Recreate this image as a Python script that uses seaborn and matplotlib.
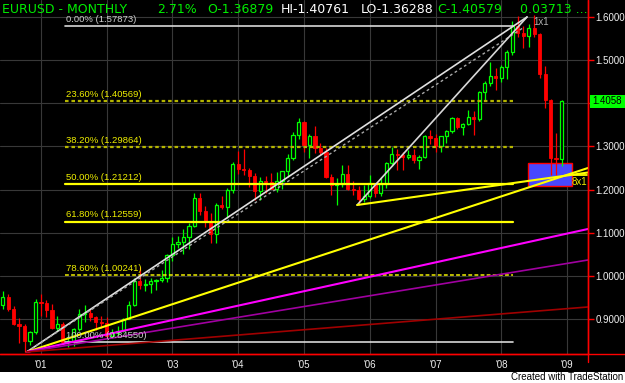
import matplotlib
matplotlib.use("Agg")
import matplotlib.pyplot as plt
import seaborn as sns
import numpy as np
import pandas as pd
from matplotlib.patches import Rectangle
from matplotlib.lines import Line2D

# ---------------- data (monthly EURUSD, Jun 2000 .. Dec 2008) ----------------
months = pd.period_range("2000-06", "2008-12", freq="M")

opens = [0.9320, 0.9520, 0.9235, 0.8880, 0.8830, 0.8490, 0.8700,
         0.9390, 0.9370, 0.9210, 0.8800, 0.8880, 0.8460, 0.8490, 0.8760, 0.9120, 0.9130, 0.9040, 0.8920,
         0.8900, 0.8600, 0.8680, 0.8720, 0.9010, 0.9330, 0.9870, 0.9780, 0.9810, 0.9870, 0.9900, 0.9940,
         1.0490, 1.0740, 1.0790, 1.0910, 1.1150, 1.1800, 1.1500, 1.1250, 1.0980, 1.1650, 1.1590, 1.1990,
         1.2590, 1.2470, 1.2450, 1.2310, 1.1960, 1.2200, 1.2170, 1.2020, 1.2190, 1.2420, 1.2740, 1.3270,
         1.3560, 1.3040, 1.3240, 1.2960, 1.2880, 1.2300, 1.2100, 1.2120, 1.2350, 1.2020, 1.1990, 1.1790,
         1.1840, 1.2150, 1.1920, 1.2120, 1.2610, 1.2830, 1.2790, 1.2760, 1.2810, 1.2680, 1.2760, 1.3250,
         1.3190, 1.3020, 1.3230, 1.3360, 1.3660, 1.3450, 1.3530, 1.3690, 1.3630, 1.4260, 1.4480, 1.4630,
         1.4590, 1.4840, 1.5180, 1.5790, 1.5620, 1.5550, 1.5750, 1.5600, 1.4680, 1.4080, 1.2730, 1.2700]
highs = [0.9650, 0.9580, 0.9300, 0.9030, 0.8890, 0.8720, 0.9460,
         0.9590, 0.9450, 0.9340, 0.9080, 0.8940, 0.8640, 0.8800, 0.9240, 0.9330, 0.9220, 0.9080, 0.9070,
         0.9050, 0.8760, 0.8840, 0.9030, 0.9410, 0.9950, 1.0200, 0.9920, 0.9960, 0.9930, 1.0140, 1.0500,
         1.0900, 1.0930, 1.1080, 1.1230, 1.1930, 1.1930, 1.1630, 1.1450, 1.1680, 1.1840, 1.2030, 1.2650,
         1.2900, 1.2930, 1.2490, 1.2390, 1.2290, 1.2310, 1.2380, 1.2410, 1.2440, 1.2820, 1.3330, 1.3670,
         1.3580, 1.3290, 1.3480, 1.3090, 1.2960, 1.2360, 1.2260, 1.2560, 1.2580, 1.2190, 1.2080, 1.2100,
         1.2330, 1.2160, 1.2290, 1.2630, 1.2980, 1.2940, 1.2880, 1.2920, 1.2940, 1.2810, 1.3270, 1.3370,
         1.3280, 1.3250, 1.3380, 1.3680, 1.3680, 1.3540, 1.3850, 1.3810, 1.4280, 1.4520, 1.4960, 1.4820,
         1.4880, 1.5240, 1.5900, 1.6020, 1.5800, 1.5840, 1.6040, 1.5620, 1.4870, 1.4100, 1.3300, 1.4076]
lows = [0.9240, 0.9180, 0.8850, 0.8440, 0.8230, 0.8400, 0.8650,
        0.9080, 0.9040, 0.8760, 0.8720, 0.8440, 0.8350, 0.8370, 0.8710, 0.8930, 0.8960, 0.8740, 0.8780,
        0.8580, 0.8560, 0.8600, 0.8700, 0.8990, 0.9300, 0.9700, 0.9640, 0.9610, 0.9680, 0.9850, 0.9860,
        1.0340, 1.0640, 1.0500, 1.0620, 1.1140, 1.1410, 1.1140, 1.0760, 1.0770, 1.1550, 1.1350, 1.1930,
        1.2370, 1.2340, 1.2050, 1.1760, 1.1760, 1.1920, 1.2010, 1.1950, 1.2020, 1.2300, 1.2690, 1.3180,
        1.2860, 1.2740, 1.2850, 1.2800, 1.2270, 1.1870, 1.1640, 1.2050, 1.1990, 1.1880, 1.1640, 1.1710,
        1.1800, 1.1830, 1.1860, 1.2030, 1.2540, 1.2460, 1.2450, 1.2700, 1.2610, 1.2480, 1.2740, 1.3060,
        1.2870, 1.2860, 1.3080, 1.3320, 1.3400, 1.3270, 1.3500, 1.3260, 1.3580, 1.4080, 1.4400, 1.4310,
        1.4500, 1.4560, 1.5130, 1.5540, 1.5280, 1.5300, 1.5530, 1.4580, 1.3880, 1.2330, 1.2330, 1.2550]
closes = [0.9520, 0.9235, 0.8880, 0.8830, 0.8490, 0.8700, 0.9390,
          0.9370, 0.9210, 0.8800, 0.8880, 0.8460, 0.8490, 0.8760, 0.9120, 0.9130, 0.9040, 0.8920, 0.8900,
          0.8600, 0.8680, 0.8720, 0.9010, 0.9330, 0.9870, 0.9780, 0.9810, 0.9870, 0.9900, 0.9940, 1.0490,
          1.0740, 1.0790, 1.0910, 1.1150, 1.1800, 1.1500, 1.1250, 1.0980, 1.1650, 1.1590, 1.1990, 1.2590,
          1.2470, 1.2450, 1.2310, 1.1960, 1.2200, 1.2170, 1.2020, 1.2190, 1.2420, 1.2740, 1.3270, 1.3560,
          1.3040, 1.3240, 1.2960, 1.2880, 1.2300, 1.2100, 1.2120, 1.2350, 1.2020, 1.1990, 1.1790, 1.1840,
          1.2150, 1.1920, 1.2120, 1.2610, 1.2830, 1.2790, 1.2760, 1.2810, 1.2680, 1.2760, 1.3250, 1.3190,
          1.3020, 1.3230, 1.3360, 1.3660, 1.3450, 1.3530, 1.3690, 1.3630, 1.4260, 1.4480, 1.4630, 1.4590,
          1.4840, 1.5180, 1.5790, 1.5620, 1.5550, 1.5750, 1.5600, 1.4680, 1.4080, 1.2730, 1.2700, 1.4058]

# Fibonacci retracement levels
fib_labels = ["0.00% (1.57873)", "23.60% (1.40569)", "38.20% (1.29864)", "50.00% (1.21212)",
              "61.80% (1.12559)", "78.60% (1.00241)", "100.00% (0.84550)"]
fib_prices = [1.57873, 1.40569, 1.29864, 1.21212, 1.12559, 1.00241, 0.84550]

# Gann fan lines: start (month index, price) -> end (month index, price); month 0 = Jan 2001
fan_x0 = [-2.6, -2.6, -2.6, -2.6, -2.6, -2.6, 57.7, 57.7]
fan_y0 = [0.8235, 0.8235, 0.8235, 0.8235, 0.8235, 0.8235, 1.1642, 1.1642]
fan_x1 = [88.7, 88.0, 99.83, 99.83, 99.83, 99.83, 88.7, 99.83]
fan_y1 = [1.6000, 1.5750, 1.2500, 1.1086, 1.0367, 0.9278, 1.6000, 1.2395]

# Highlight box (month range, price range)
box_months = [88.9, 96.9]
box_prices = [1.2083, 1.2616]

year_ticks = ["'01", "'02", "'03", "'04", "'05", "'06", "'07", "'08", "'09"]
price_ticks = [0.9, 1.0, 1.1, 1.2, 1.3, 1.4, 1.5, 1.6]
last_price = 1.4058

header_parts = ["EURUSD - MONTHLY", "2.71%", "O-1.36879", "HI-1.40761", "LO-1.36288", "C-1.40579", "0.03713 ..."]

# ---------------- styling ----------------
W, H = 625, 383
sns.set_theme(style="dark")
plt.rcParams['font.family'] = ['Liberation Sans', 'DejaVu Sans']

fig = plt.figure(figsize=(W / 100, H / 100), dpi=100, facecolor="black")
ax = fig.add_axes([0, 29 / H, 588 / W, 354 / H])
ax.set_facecolor("black")

m = np.array([(p.year - 2001) * 12 + (p.month - 1) for p in months], dtype=float)
o = np.array(opens); hi = np.array(highs); lo = np.array(lows); c = np.array(closes)
up = c >= o

# highlight box (behind candles)
ax.add_patch(Rectangle((box_months[0], box_prices[0]), box_months[1] - box_months[0],
                       box_prices[1] - box_prices[0], facecolor="#4848ff", edgecolor="#ff0000",
                       lw=1.0, zorder=1.5))

# candles
wick_colors = np.where(up, "#00ff00", "#ff0000")
ax.vlines(m, lo, hi, colors=wick_colors, lw=0.9, zorder=2)
bh = np.maximum(np.abs(c - o), 0.0015)
bb = np.minimum(o, c)
ax.bar(m[up], bh[up], bottom=bb[up], width=0.58, facecolor="black", edgecolor="#00ff00",
       lw=0.9, zorder=3)
ax.bar(m[~up], bh[~up], bottom=bb[~up], width=0.58, facecolor="#ff0000", edgecolor="#ff0000",
       lw=0.6, zorder=3)

# Fibonacci levels
fib_x0, fib_x1 = 4.4, 86.1
fib_colors = ["#d8d8d8", "#b5b500", "#b5b500", "#ffff00", "#ffff00", "#f0f000", "#d8d8d8"]
fib_ls = ["-", (0, (1.6, 1.3)), (0, (1.6, 1.3)), "-", "-", (0, (2.5, 1.5)), "-"]
fib_lw = [1.2, 1.6, 1.6, 1.6, 1.6, 1.1, 1.2]
fib_txt = ["#d0d0d0", "#f0f000", "#f0f000", "#f0f000", "#f0f000", "#f0f000", "#c8c8c8"]
for lab, p, col, ls, lw, tc in zip(fib_labels, fib_prices, fib_colors, fib_ls, fib_lw, fib_txt):
    ax.plot([fib_x0, fib_x1], [p, p], color=col, ls=ls, lw=lw, zorder=5)
    ax.annotate(lab, (fib_x0 + 0.1, p), xytext=(0, 1.6), textcoords="offset points",
                color=tc, fontsize=6.8, va="bottom", ha="left", zorder=7)

# Gann fan lines (seaborn)
fan_colors = ["#e0e0e0", "#a8a8a8", "#ffff00", "#ff00ff", "#a000a0", "#a00000", "#d8d8d8", "#ffff00"]
fan_ls = ["-", (0, (2, 2)), "-", "-", "-", "-", "-", "-"]
fan_lw = [1.2, 1.0, 1.5, 1.5, 1.2, 1.2, 1.2, 1.5]
for x0, y0, x1, y1, col, ls, lw in zip(fan_x0, fan_y0, fan_x1, fan_y1, fan_colors, fan_ls, fan_lw):
    sns.lineplot(x=[x0, x1], y=[y0, y1], ax=ax, color=col, lw=lw, linestyle=ls, zorder=6)

ax.text(89.8, 1.588, "1x1", color="#b0b0b0", fontsize=7, va="center", ha="left", zorder=7)
ax.plot([97.1, 99.6], [1.2338, 1.2338], color="#ffff00", lw=1.3, zorder=6)
ax.text(96.9, 1.2170, "8x1", color="#f0f000", fontsize=7, va="center", ha="left", zorder=7)

# axes, ticks, grid
ax.set_xlim(-7.48, 99.83)
ax.set_ylim(0.8188, 1.6394)
ax.set_xlabel(""); ax.set_ylabel("")
ax.set_xticks([12 * i for i in range(len(year_ticks))])
ax.set_xticklabels(year_ticks)
ax.set_yticks(price_ticks)
# the 1.4000 label is hidden behind the last-price tag in the reference
ax.set_yticklabels(["" if abs(v - 1.4) < 1e-9 else f"{v:.4f}" for v in price_ticks])
ax.yaxis.tick_right()
ax.tick_params(axis="y", which="major", color="#ff0000", labelcolor="#f0f0f0", length=4, width=1,
               pad=1.5, labelsize=7, right=True, left=False)
ax.tick_params(axis="x", which="major", color="#ff0000", labelcolor="#f0f0f0", length=0,
               pad=4, labelsize=7)
ax.grid(True, color="#383838", lw=0.8, zorder=0)
ax.set_axisbelow(True)
for s in ["left", "top"]:
    ax.spines[s].set_visible(False)
for s in ["right", "bottom"]:
    ax.spines[s].set_visible(True)
    ax.spines[s].set_color("#ff0000")
    ax.spines[s].set_linewidth(1.0)

# figure-level decorations
fig.add_artist(Line2D([0, 1], [29 / H, 29 / H], color="#ff0000", lw=1.0))
fig.add_artist(Line2D([588 / W, 588 / W], [21 / H, 1], color="#ff0000", lw=1.0))
fig.add_artist(Rectangle((0, 0), 1, 11.5 / H, facecolor="white", edgecolor="none",
                         transform=fig.transFigure))
fig.text(623 / W, 1 - 377.5 / H, "Created with TradeStation", color="black", fontsize=7,
         ha="right", va="center")

# last price tag
fig.add_artist(Rectangle((589.5 / W, 1 - 107.5 / H), 35 / W, 12 / H, facecolor="#00ff00",
                         edgecolor="none", transform=fig.transFigure, zorder=10))
fig.text(607 / W, 1 - 101.3 / H, f"{last_price:.4f}", color="black", fontsize=7, ha="center",
         va="center", zorder=11)

# header
hdr_x = [2, 157, 207, 281, 361, 437, 520]
hdr_c = ["#00ee00", "#00ee00", "#00ee00", "#ffffff", "#ffffff", "#00ee00", "#00ee00"]
for s, xx, col in zip(header_parts, hdr_x, hdr_c):
    fig.text(xx / W, 1 - 13.4 / H, s, color=col, fontsize=9.0, family="DejaVu Sans",
             ha="left", va="baseline")

fig.savefig("out.png", dpi=100, facecolor="black")
